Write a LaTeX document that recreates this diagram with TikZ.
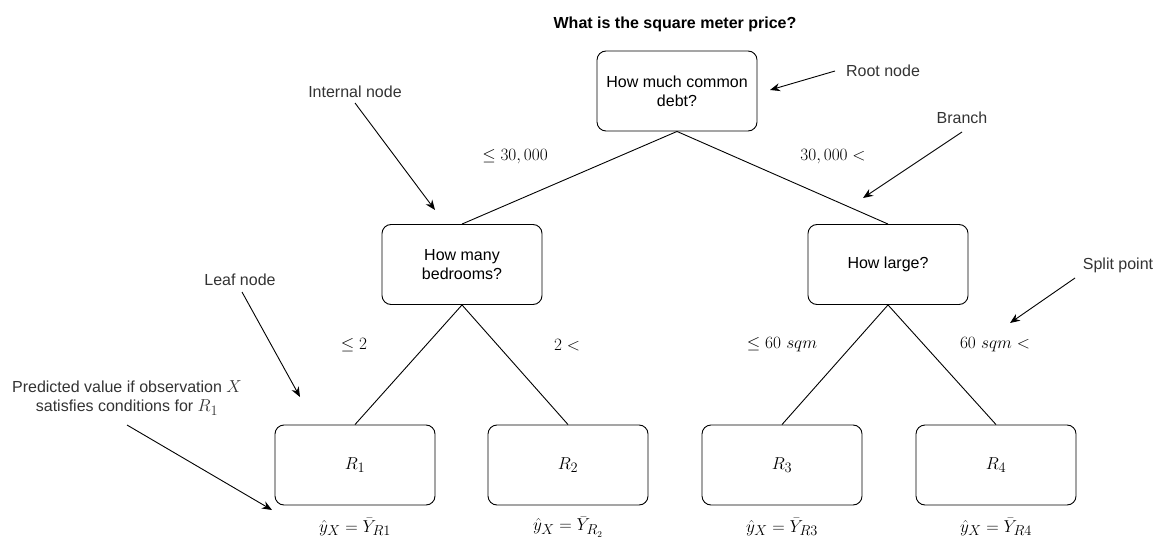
\documentclass[tikz,border=0pt]{standalone}
\usepackage{amsmath,amssymb}
\usepackage{fontspec}
\setmainfont{Liberation Sans}
\usepackage{tikz}
\usetikzlibrary{arrows.meta}

\newcommand{\mathsz}{\fontsize{19}{22}\selectfont}

\begin{document}
\begin{tikzpicture}[x=1pt,y=-1pt,
  treebox/.style={draw, line width=0.9pt, rounded corners=9pt, minimum width=160pt,
    minimum height=80pt, align=center, inner sep=0pt, font=\fontsize{16}{19}\selectfont},
  note/.style={font=\fontsize{16}{19}\selectfont, text=black!80, align=center, inner sep=0pt},
  cond/.style={font=\mathsz, inner sep=0pt},
  pointer/.style={line width=0.9pt, -{Stealth[length=10pt,width=8pt]}},
  branchline/.style={line width=0.9pt}]
\useasboundingbox (0,0) rectangle (1158,545);
% title
\node[font=\fontsize{16}{19}\selectfont\bfseries, inner sep=0pt] (title) at (675,24) {What is the square meter price?};
% tree
\node[treebox] (root) at (677,91) {How much common\\debt?};
\node[treebox] (bedrooms) at (462,264.5) {How many\\bedrooms?};
\node[treebox] (large) at (888,264.5) {How large?};
\node[treebox, font=\mathsz] (r1) at (355,465) {$R_1$};
\node[treebox, font=\mathsz] (r2) at (568,465) {$R_2$};
\node[treebox, font=\mathsz] (r3) at (782,465) {$R_3$};
\node[treebox, font=\mathsz] (r4) at (996,465) {$R_4$};
\draw[branchline] (root.south) -- (bedrooms.north);
\draw[branchline] (root.south) -- (large.north);
\draw[branchline] (bedrooms.south) -- (r1.north);
\draw[branchline] (bedrooms.south) -- (r2.north);
\draw[branchline] (large.south) -- (r3.north);
\draw[branchline] (large.south) -- (r4.north);
% conditions
\node[cond] (c1) at (515,157) {$\leq 30,000$};
\node[cond] (c2) at (833,157) {$30,000 <$};
\node[cond] (c3) at (354,345) {$\leq 2$};
\node[cond] (c4) at (567,345) {$2 <$};
\node[cond] (c5) at (782,345) {$\leq 60\ sqm$};
\node[cond] (c6) at (995,345) {$60\ sqm <$};
% predictions
\node[cond] (y1) at (355,527) {$\hat{y}_X = \bar{Y}_{R1}$};
\node[cond] (y2) at (568,527) {$\hat{y}_X = \bar{Y}_{R_2}$};
\node[cond] (y3) at (782,527) {$\hat{y}_X = \bar{Y}_{R3}$};
\node[cond] (y4) at (996,527) {$\hat{y}_X = \bar{Y}_{R4}$};
% annotations
\node[note] (rootnote) at (883,71) {Root node};
\node[note] (internalnote) at (355,92) {Internal node};
\node[note] (branchnote) at (962,118) {Branch};
\node[note] (leafnote) at (240,280) {Leaf node};
\node[note] (splitnote) at (1118,265) {Split point};
\node[note] (prednote) at (127,398) {Predicted value if observation {\mathsz$X$}\\satisfies conditions for {\mathsz$R_1$}};
\coordinate (rootA) at (835,71);   \coordinate (rootB) at (770,90);
\coordinate (intA) at (355,103);   \coordinate (intB) at (435,210);
\coordinate (brA) at (962,132);    \coordinate (brB) at (863,198);
\coordinate (leafA) at (242,292);  \coordinate (leafB) at (300,397);
\coordinate (splitA) at (1075,278); \coordinate (splitB) at (1010,323);
\coordinate (predA) at (127,425);  \coordinate (predB) at (272,510);
\draw[pointer] (rootA) -- (rootB);
\draw[pointer] (intA) -- (intB);
\draw[pointer] (brA) -- (brB);
\draw[pointer] (leafA) -- (leafB);
\draw[pointer] (splitA) -- (splitB);
\draw[pointer] (predA) -- (predB);
\end{tikzpicture}
\end{document}
